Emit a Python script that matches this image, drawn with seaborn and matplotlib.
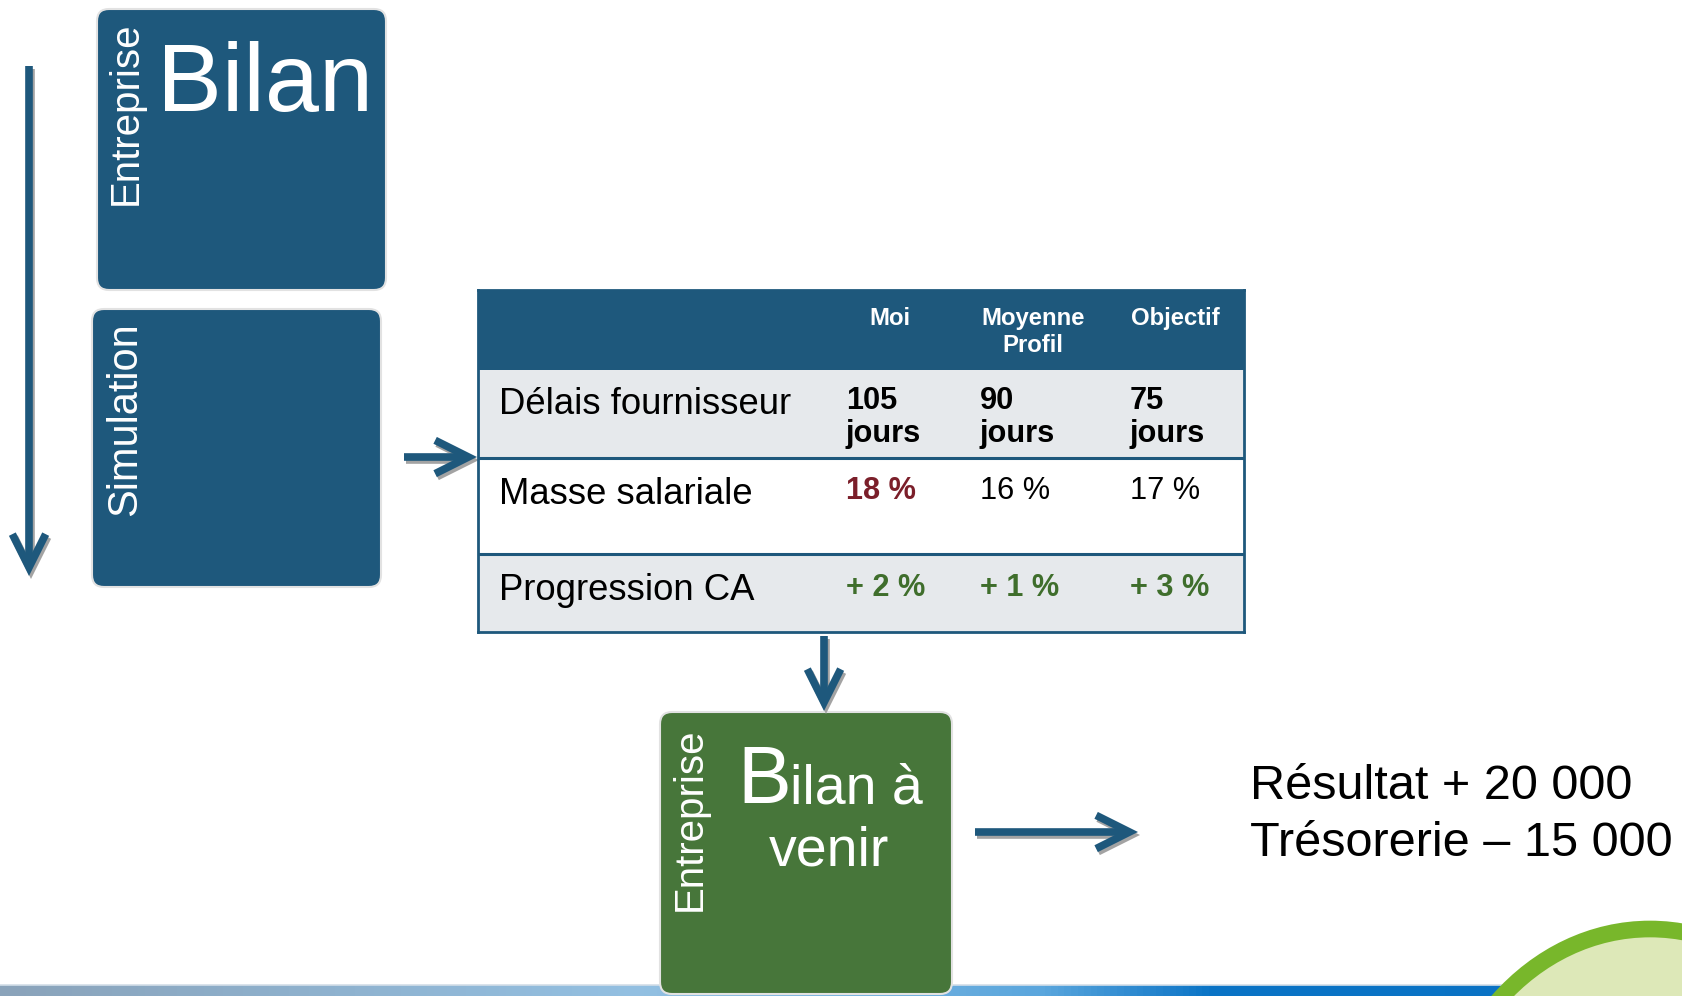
import numpy as np
import matplotlib
matplotlib.use("Agg")
import matplotlib.pyplot as plt
import seaborn as sns
from matplotlib import font_manager
from matplotlib.colors import ListedColormap, LinearSegmentedColormap
from matplotlib.patches import FancyBboxPatch, Ellipse

# Données du tableau
colonnes = ["Moi", "Moyenne\nProfil", "Objectif"]
indicateurs = ["Délais fournisseur", "Masse salariale", "Progression CA"]
delais_jours = [105, 90, 75]
masse_salariale = [18, 16, 17]
progression_ca = [2, 1, 3]
resultat = 20000
tresorerie = -15000

# Couleurs
BLEU = "#1e587c"
VERT = "#47763a"
GRIS = "#e6e9ec"
ROUGE = "#7b1f2a"
VERT_TXT = "#3f6e2c"
OMBRE = "#a3a3a3"

sns.set_theme(style="white")
plt.rcParams["font.family"] = ["Liberation Sans", "DejaVu Sans"]

# Police étroite pour le tableau (si elle existe)
noms = {f.name for f in font_manager.fontManager.ttflist}
if "Liberation Sans Narrow" in noms:
    etroit, k = "Liberation Sans Narrow", 1.0
else:
    etroit, k = "Liberation Sans", 0.82

W, H = 1682, 996
fig = plt.figure(figsize=(W / 100, H / 100), dpi=100)
ax = fig.add_axes([0, 0, 1, 1])
ax.axis("off")


def boite(x0, y0, x1, y1, couleur):
    ax.add_patch(FancyBboxPatch((x0, y0), x1 - x0, y1 - y0,
                                boxstyle="round,pad=0,rounding_size=12",
                                fc=couleur, ec="#e2e2e2", lw=1.5, zorder=3))


def fleche(x0, y0, x1, y1):
    style = "->,head_length=1.6,head_width=0.8"
    for dx, dy, c, z in [(2, 3, OMBRE, 4), (0, 0, BLEU, 5)]:
        ax.annotate("", xy=(x1 + dx, y1 + dy), xytext=(x0 + dx, y0 + dy),
                    arrowprops=dict(arrowstyle=style, color=c, lw=5.5,
                                    shrinkA=0, shrinkB=0, mutation_scale=15,
                                    joinstyle="miter", capstyle="butt"),
                    zorder=z)


def milliers(v):
    signe = "+" if v > 0 else "–"
    return signe + " " + f"{abs(v):,}".replace(",", " ")


def lignes(axe, x, y, texte, pas, **kw):
    # une ligne à la fois pour garder la 1re ligne sur sa ligne de base
    for n, ligne in enumerate(texte.split("\n")):
        axe.text(x, y + n * pas, ligne, va="baseline", **kw)


# Bande du bas + arc vert
bande = LinearSegmentedColormap.from_list(
    "bande", [(0, "#8aa3ba"), (0.38, "#93c0e2"), (0.62, "#5aa6dd"),
              (0.72, "#0b74c6"), (1, "#0a72c4")])
ax.imshow(np.linspace(0, 1, 512)[None, :], cmap=bande, aspect="auto",
          extent=(0, W, H, 985), zorder=1)
ax.plot([0, W], [984.5, 984.5], color="#d3dee8", lw=1.2, zorder=1)
ax.add_patch(Ellipse((1650, 1175), 430, 492, fc="#dde8b8", ec="#78b72b",
                     lw=12, zorder=2))

# Boîtes
boite(97, 9, 386, 290, BLEU)
boite(92, 309, 381, 587, BLEU)
boite(660, 712, 952, 994, VERT)

ax.text(157, 111, "Bilan", color="white", fontsize=70, va="baseline", zorder=6)
ax.text(126, 21, "Entreprise", color="white", fontsize=29, rotation=90,
        ha="center", va="top", zorder=6)
ax.text(125, 322, "Simulation", color="white", fontsize=30, rotation=90,
        ha="center", va="top", zorder=6)
ax.text(690, 727, "Entreprise", color="white", fontsize=29, rotation=90,
        ha="center", va="top", zorder=6)
ax.text(737, 803, "B", color="white", fontsize=58, va="baseline", zorder=6)
ax.text(790, 803, "ilan à", color="white", fontsize=40, va="baseline", zorder=6)
ax.text(829, 865, "venir", color="white", fontsize=40, ha="center",
        va="baseline", zorder=6)

ax.text(1250, 799, "Résultat " + milliers(resultat), fontsize=35,
        color="black", va="baseline", zorder=6)
ax.text(1250, 856, "Trésorerie " + milliers(tresorerie), fontsize=35,
        color="black", va="baseline", zorder=6)

# Flèches
fleche(29, 66, 29, 576)
fleche(404, 457, 477, 457)
fleche(824, 636, 824, 711)
fleche(975, 832, 1138, 832)

ax.set_xlim(0, W)
ax.set_ylim(H, 0)

# Tableau
tx0, ty0, tw, th = 478, 290, 766, 342
hauteurs = [80, 88, 96, 78]
axt = fig.add_axes([tx0 / W, 1 - (ty0 + th) / H, tw / W, th / H])
fond = np.repeat([0, 1, 2, 1], hauteurs)[:, None]
sns.heatmap(fond, ax=axt, cmap=ListedColormap([BLEU, GRIS, "white"]),
            vmin=0, vmax=2, cbar=False, xticklabels=False, yticklabels=False)
for y in np.cumsum(hauteurs)[1:-1]:
    axt.axhline(y, color=BLEU, lw=2.2)
for s in axt.spines.values():
    s.set_visible(True)
    s.set_color(BLEU)
    s.set_linewidth(2)

for x, c in zip([0.538, 0.7245, 0.911], colonnes):
    lignes(axt, x, 35, c, 27, ha="center", color="white",
           fontsize=21 * k, fontweight="bold", family=etroit)

for y, nom in zip([124, 214, 310], indicateurs):
    axt.text(0.0274, y, nom, va="baseline", color="black",
             fontsize=32 * k, family=etroit)

valeurs = [[f"{v}\njours" for v in delais_jours],
           [f"{v} %" for v in masse_salariale],
           [f"+ {v} %" for v in progression_ca]]
couleurs = [["black"] * 3, [ROUGE, "black", "black"], [VERT_TXT] * 3]
graisses = [["bold"] * 3, ["bold", "normal", "normal"], ["bold"] * 3]

for i, y in enumerate([119, 209, 306]):
    for j, x in enumerate([0.480, 0.655, 0.851]):
        lignes(axt, x, y, valeurs[i][j], 33, color=couleurs[i][j],
               fontsize=27 * k, fontweight=graisses[i][j], family=etroit)

fig.savefig("out.png", dpi=100)
